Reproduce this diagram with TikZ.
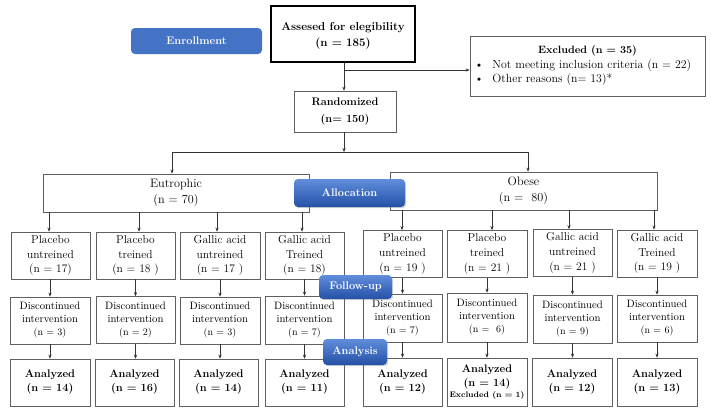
\documentclass[tikz,border=0pt]{standalone}
\usetikzlibrary{arrows.meta,shadows}
\definecolor{flatblue}{RGB}{68,114,196}
\definecolor{lblue}{RGB}{96,142,220}
\definecolor{dblue}{RGB}{36,80,166}
\definecolor{edge}{RGB}{95,95,95}
\begin{document}
\begin{tikzpicture}[x=1pt,y=-1pt,
  sz/.style 2 args={minimum width=#1, minimum height=#2},
  box/.style={draw=edge, line width=0.7pt, inner sep=1pt, align=center, font=\fontsize{11.5}{14.8}\selectfont},
  smallbox/.style={box, font=\fontsize{10.7}{13}\selectfont},
  resbox/.style={box, font=\fontsize{11}{14}\selectfont\bfseries},
  label/.style={rounded corners=4pt, text=white, font=\fontsize{11}{13}\selectfont\bfseries, inner sep=1pt},
  glabel/.style={label, top color=lblue, bottom color=dblue, drop shadow={opacity=0.35, shadow xshift=1.2pt, shadow yshift=-1.2pt}},
  arr/.style={draw=black!80, line width=0.6pt, -{Stealth[length=4pt,width=3.2pt]}},
  ln/.style={draw=black!80, line width=0.6pt}]
\useasboundingbox (0,0) rectangle (711,416);
\newcommand{\nsm}[1]{{\fontsize{10}{13}\selectfont #1}}

% top
\node[box, draw=black, line width=1.1pt, sz={144pt}{56pt}, font=\fontsize{11.5}{16}\selectfont\bfseries, text depth=0pt] (assess) at (343,34) {Assesed for elegibility\\(n = 185)};
\node[label, fill=flatblue, sz={131pt}{26pt}] (enroll) at (196.5,41) {Enrollment};
\node[box, sz={235pt}{60pt}, text width=226pt, align=left, font=\fontsize{11.8}{14.5}\selectfont] (excl) at (587.5,66)
  {\hfill{\fontsize{10.6}{14.5}\selectfont\bfseries Excluded (n = 35)}\hfill\null\\
   \textbullet\hspace{9pt}Not meeting inclusion criteria (n = 22)\\
   \textbullet\hspace{9pt}Other reasons (n= 13)*};
\node[box, sz={102pt}{41pt}, font=\fontsize{11}{17}\selectfont\bfseries] (rand) at (345,111.5) {Randomized\\(n= 150)};

% groups
\node[box, sz={266pt}{38pt}, font=\fontsize{12.2}{16}\selectfont] (eut) at (176,193) {Eutrophic\\(n = 70)};
\node[box, sz={267pt}{38pt}, font=\fontsize{12.2}{16}\selectfont] (obe) at (523.5,191) {Obese\\(n =\ \ 80)};

% row 1
\node[box, sz={79pt}{47pt}] (a1) at (50.5,255.5) {Placebo\\untreined\\(n = 17)};
\node[box, sz={79pt}{47pt}] (a2) at (135.5,255.5) {Placebo\\treined\\(n = 18 )};
\node[box, sz={80pt}{47pt}] (a3) at (220,255.5) {Gallic acid\\untreined\\(n = 17 )};
\node[box, sz={79pt}{47pt}] (a4) at (304.5,255.5) {Gallic acid\\Treined\\(n = 18)};
\node[box, sz={79pt}{47pt}] (a5) at (402.5,254) {Placebo\\untreined\\(n = 19 )};
\node[box, sz={80pt}{47pt}] (a6) at (487,254) {Placebo\\treined\\(n = 21 )};
\node[box, sz={79pt}{47pt}] (a7) at (572.5,253) {Gallic acid\\untreined\\(n = 21 )};
\node[box, sz={80pt}{47pt}] (a8) at (657,253.5) {Gallic acid\\Treined\\(n = 19 )};

% row 2
\node[smallbox, sz={80pt}{47pt}] (b1) at (50,320.5) {Discontinued\\intervention\\\nsm{(n = 3)}};
\node[smallbox, sz={79pt}{47pt}] (b2) at (135.5,320) {Discontinued\\intervention\\\nsm{(n = 2)}};
\node[smallbox, sz={80pt}{47pt}] (b3) at (220,320.5) {Discontinued\\intervention\\\nsm{(n = 3)}};
\node[smallbox, sz={79pt}{48pt}] (b4) at (304.5,320) {Discontinued\\intervention\\\nsm{(n = 7)}};
\node[smallbox, sz={79pt}{48pt}] (b5) at (402.5,318) {Discontinued\\intervention\\\nsm{(n = 7)}};
\node[smallbox, sz={80pt}{49pt}] (b6) at (487,317.5) {Discontinued\\intervention\\\nsm{(n =\ \ 6)}};
\node[smallbox, sz={79pt}{48pt}] (b7) at (572.5,319) {Discontinued\\intervention\\\nsm{(n = 9)}};
\node[smallbox, sz={80pt}{47pt}] (b8) at (657,318.5) {Discontinued\\intervention\\\nsm{(n = 6)}};

% row 3
\node[resbox, sz={80pt}{47pt}] (c1) at (50,382.5) {Analyzed\\(n = 14)};
\node[resbox, sz={79pt}{47pt}] (c2) at (134.5,382.5) {Analyzed\\(n = 16)};
\node[resbox, sz={79pt}{47pt}] (c3) at (218.5,382.5) {Analyzed\\(n = 14)};
\node[resbox, sz={79pt}{47pt}] (c4) at (304.5,382.5) {Analyzed\\(n = 11)};
\node[resbox, sz={79pt}{48pt}] (c5) at (402.5,382) {Analyzed\\(n = 12)};
\node[resbox, sz={80pt}{48pt}] (c6) at (487,382) {Analyzed\\(n = 14)\\[-3pt]{\fontsize{8}{9}\selectfont Excluded (n = 1)}};
\node[resbox, sz={80pt}{48pt}] (c7) at (572,382) {Analyzed\\(n = 12)};
\node[resbox, sz={80pt}{48pt}] (c8) at (657,382) {Analyzed\\(n = 13)};

% connectors top
\coordinate (j) at (344,70);
\draw[arr] (assess.south -| j) -- (rand.north -| j);
\draw[arr] (j) -- (excl.west |- j);
\coordinate (sp) at (344,152);
\coordinate (bl) at (172,152);
\coordinate (br) at (528,152);
\draw[arr] (rand.south -| sp) -- (sp);
\draw[ln] (bl) -- (br);
\draw[arr] (bl) -- (bl |- eut.north);
\draw[arr] (br) -- (br |- obe.north);

% connectors to row 1
\coordinate (e1) at (49,0); \coordinate (e2) at (139,0);
\coordinate (e3) at (217,0); \coordinate (e4) at (302,0);
\coordinate (o1) at (402,0); \coordinate (o2) at (492,0);
\coordinate (o3) at (569,0); \coordinate (o4) at (654,0);
\draw[arr] (eut.south -| e1) -- (a1.north -| e1);
\draw[arr] (eut.south -| e2) -- (a2.north -| e2);
\draw[arr] (eut.south -| e3) -- (a3.north -| e3);
\draw[arr] (eut.south -| e4) -- (a4.north -| e4);
\draw[arr] (obe.south -| o1) -- (a5.north -| o1);
\draw[arr] (obe.south -| o2) -- (a6.north -| o2);
\draw[arr] (obe.south -| o3) -- (a7.north -| o3);
\draw[arr] (obe.south -| o4) -- (a8.north -| o4);

% rows 1-2-3
\foreach \i in {1,...,8}{
  \draw[arr] (a\i.south -| b\i) -- (b\i.north);
  \draw[arr] (b\i.south) -- (c\i.north -| b\i);
}

% section labels
\node[glabel, sz={111pt}{28pt}] (alloc) at (349.5,193) {Allocation};
\node[glabel, sz={73pt}{24pt}] (follow) at (355.5,287) {Follow-up};
\node[glabel, sz={64pt}{26pt}] (anal) at (355,352) {Analysis};
\end{tikzpicture}
\end{document}
